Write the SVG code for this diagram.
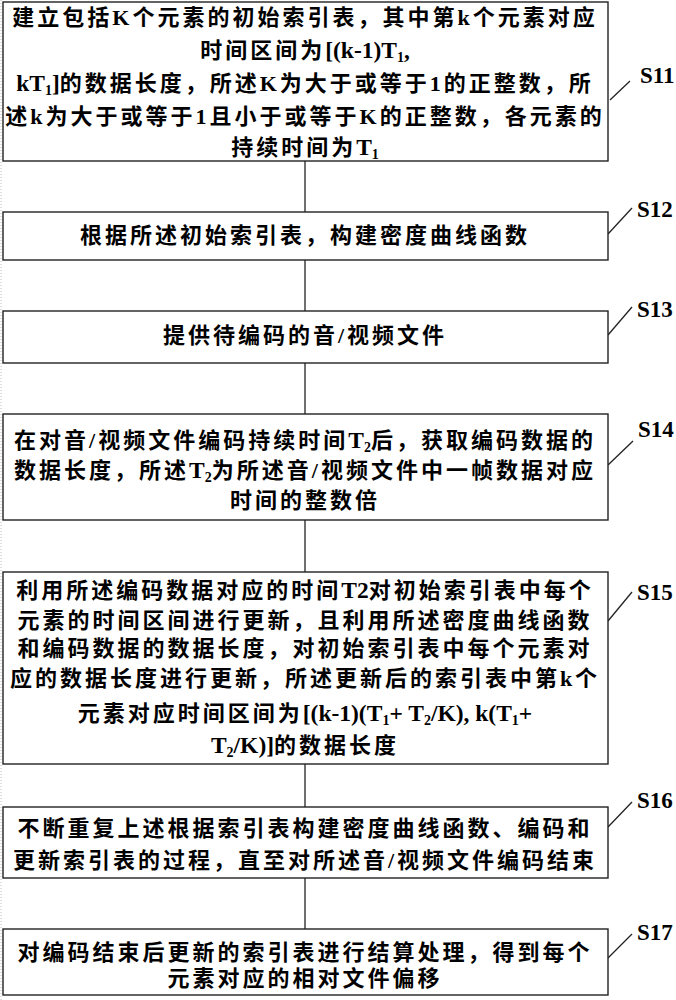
<svg xmlns="http://www.w3.org/2000/svg" width="676" height="1000" viewBox="0 0 676 1000">
<style>
.box{fill:#fff;stroke:#222;stroke-width:1.4}
.con{stroke:#222;stroke-width:1.3;fill:none}
.t{font-family:"Liberation Serif","Noto Sans CJK SC",serif;font-size:22px;font-weight:bold;fill:#000;text-anchor:middle;letter-spacing:3px}
.l{letter-spacing:0;font-size:23.5px}
.lbl{font-family:"Liberation Serif",serif;font-size:23px;font-weight:bold;fill:#000}
.sub{font-size:14px;letter-spacing:0}
</style>
<rect width="676" height="1000" fill="#fff"/>
<line x1="1" y1="0" x2="1" y2="1000" stroke="#bbb" stroke-width="1" stroke-dasharray="1,2"/>
<g id="connectors">
<line class="con" x1="305" y1="161" x2="305" y2="212"/>
<line class="con" x1="305" y1="260" x2="305" y2="311"/>
<line class="con" x1="305" y1="363" x2="305" y2="414"/>
<line class="con" x1="305" y1="520" x2="305" y2="572"/>
<line class="con" x1="305" y1="764" x2="305" y2="807"/>
<line class="con" x1="305" y1="878" x2="305" y2="929"/>
<line class="con" x1="610" y1="100" x2="630" y2="81"/>
<line class="con" x1="608" y1="234" x2="632" y2="208"/>
<line class="con" x1="608" y1="335" x2="632" y2="307"/>
<line class="con" x1="608" y1="465" x2="633" y2="441"/>
<line class="con" x1="608" y1="621" x2="632" y2="592"/>
<line class="con" x1="608" y1="827" x2="632" y2="802"/>
<line class="con" x1="608" y1="958" x2="632" y2="934"/>
</g>
<g id="S11">
<rect class="box" x="3" y="2" width="605" height="159"/>
<text class="t" x="305" y="25">建立包括K个元素的初始索引表，其中第k个元素对应</text>
<text class="t" x="305" y="58">时间区间为<tspan class="l">[(k-1)T</tspan><tspan class="sub" dy="4">1</tspan><tspan class="l" dy="-4">,</tspan></text>
<text class="t" x="305" y="91"><tspan class="l">kT</tspan><tspan class="sub" dy="4">1</tspan><tspan class="l" dy="-4">]</tspan>的数据长度，所述K为大于或等于1的正整数，所</text>
<text class="t" x="305" y="124">述k为大于或等于1且小于或等于K的正整数，各元素的</text>
<text class="t" x="305" y="155">持续时间为<tspan class="l">T</tspan><tspan class="sub" dy="4">1</tspan></text>
<text class="lbl" x="640" y="83">S11</text>
</g>
<g id="S12">
<rect class="box" x="3" y="212" width="605" height="48"/>
<text class="t" x="305" y="243">根据所述初始索引表，构建密度曲线函数</text>
<text class="lbl" x="637" y="217">S12</text>
</g>
<g id="S13">
<rect class="box" x="3" y="311" width="605" height="52"/>
<text class="t" x="305" y="343">提供待编码的音/视频文件</text>
<text class="lbl" x="637" y="317">S13</text>
</g>
<g id="S14">
<rect class="box" x="3" y="414" width="605" height="106"/>
<text class="t" x="305" y="448">在对音/视频文件编码持续时间<tspan class="l">T</tspan><tspan class="sub" dy="4">2</tspan><tspan dy="-4">后，获取编码数据的</tspan></text>
<text class="t" x="305" y="478">数据长度，所述<tspan class="l">T</tspan><tspan class="sub" dy="4">2</tspan><tspan dy="-4">为所述音/视频文件中一帧数据对应</tspan></text>
<text class="t" x="305" y="508">时间的整数倍</text>
<text class="lbl" x="638" y="437">S14</text>
</g>
<g id="S15">
<rect class="box" x="3" y="572" width="605" height="192"/>
<text class="t" x="305" y="598">利用所述编码数据对应的时间<tspan class="l">T2</tspan>对初始索引表中每个</text>
<text class="t" x="305" y="628">元素的时间区间进行更新，且利用所述密度曲线函数</text>
<text class="t" x="305" y="656">和编码数据的数据长度，对初始索引表中每个元素对</text>
<text class="t" x="305" y="686">应的数据长度进行更新，所述更新后的索引表中第k个</text>
<text class="t" x="305" y="721">元素对应时间区间为<tspan class="l">[(k-1)(T</tspan><tspan class="sub" dy="4">1</tspan><tspan class="l" dy="-4">+ T</tspan><tspan class="sub" dy="4">2</tspan><tspan class="l" dy="-4">/K), k(T</tspan><tspan class="sub" dy="4">1</tspan><tspan class="l" dy="-4">+</tspan></text>
<text class="t" x="305" y="753"><tspan class="l">T</tspan><tspan class="sub" dy="4">2</tspan><tspan class="l" dy="-4">/K)]</tspan>的数据长度</text>
<text class="lbl" x="637" y="600">S15</text>
</g>
<g id="S16">
<rect class="box" x="3" y="807" width="605" height="71"/>
<text class="t" x="305" y="836">不断重复上述根据索引表构建密度曲线函数、编码和</text>
<text class="t" x="305" y="868">更新索引表的过程，直至对所述音/视频文件编码结束</text>
<text class="lbl" x="637" y="808">S16</text>
</g>
<g id="S17">
<rect class="box" x="3" y="929" width="605" height="66"/>
<text class="t" x="305" y="960">对编码结束后更新的索引表进行结算处理，得到每个</text>
<text class="t" x="305" y="986">元素对应的相对文件偏移</text>
<text class="lbl" x="637" y="940">S17</text>
</g>
</svg>
